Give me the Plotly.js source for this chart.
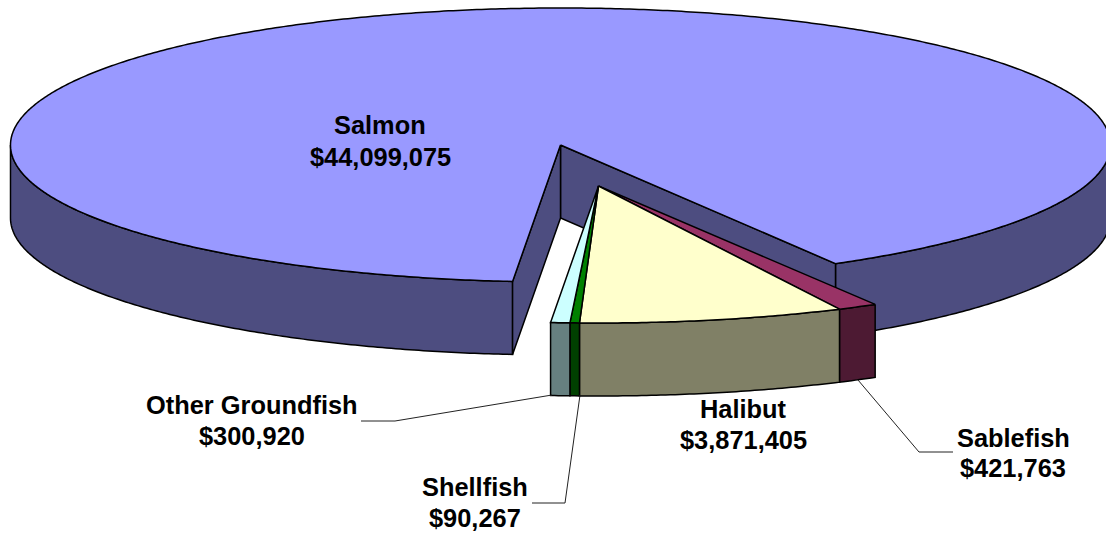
<!DOCTYPE html>
<html>
<head>
<meta charset="utf-8">
<script src="https://cdn.plot.ly/plotly-3.0.1.min.js"></script>
<style>html,body{margin:0;padding:0;background:#fff;overflow:hidden}#chart{width:1106px;height:534px}</style>
</head>
<body>
<div id="chart"></div>
<script>
// Data, in clockwise drawing order starting from the first slice angle
const categories = ["Sablefish", "Halibut", "Shellfish", "Other Groundfish", "Salmon"];
const values = [421763, 3871405, 90267, 300920, 44099075];

// Styles
const topColors = ["#993366", "#FFFFCC", "#008000", "#CCFFFF", "#9999FF"];
const wallColors = ["#4D1A33", "#808066", "#004000", "#668080", "#4D4D80"];

// Pie projection
const firstAngle = 30.2, rx = 550, ry = 137, depth = 73;
const body = {cx: 560.5, cy: 145};
const pulled = {cx: 598.5, cy: 186};
const frontSweepEnd = 90;
// The source's 3-D renderer widens the thinnest slices a little; degrees added to each share
const projectionNudge = [1.1, -0.6, 0.33, -0.2, -0.43];

const total = values.reduce((a, b) => a + b, 0);
let running = firstAngle;
const spans = values.map((v, i) => {
  const from = running;
  running -= v / total * 360 + projectionNudge[i];
  return [from, running];
});

// angle: degrees measured from straight down, positive toward the right
const pt = (c, deg, drop = 0) => {
  const r = deg * Math.PI / 180;
  return [c.cx + rx * Math.sin(r), c.cy + ry * Math.cos(r) + drop];
};
const arc = (c, a, b, drop = 0) => {
  const n = Math.max(2, Math.ceil(Math.abs(a - b) * 2));
  const out = [];
  for (let i = 0; i <= n; i++) out.push(pt(c, a + (b - a) * i / n, drop));
  return out;
};
const poly = (pts, fill, name) => ({
  type: "scatter", mode: "lines", name,
  x: pts.map(p => p[0]), y: pts.map(p => p[1]),
  fill: "toself", fillcolor: fill,
  line: {color: "#000", width: 1.5, simplify: false},
  hoverinfo: "name", showlegend: false
});
const wallPoly = (c, a, b, fill, name) =>
  poly([...arc(c, a, b), ...arc(c, b, a, depth), pt(c, a)], fill, name);

const traces = [];
const salmonIdx = values.length - 1;
const [sFrom, sTo] = spans[salmonIdx]; // runs from the left cut clockwise round to the right cut
const leftCut = sFrom, rightCut = sTo + 360;

// Salmon outer walls (only the front half of the rim shows)
traces.push(wallPoly(body, -frontSweepEnd, leftCut, wallColors[salmonIdx], "Salmon wall"));
traces.push(wallPoly(body, rightCut, frontSweepEnd, wallColors[salmonIdx], "Salmon wall"));
// Salmon cut faces
const apex = [body.cx, body.cy], apexLow = [body.cx, body.cy + depth];
traces.push(poly([apex, pt(body, rightCut), pt(body, rightCut, depth), apexLow, apex], wallColors[salmonIdx], "Salmon cut"));
traces.push(poly([apex, pt(body, leftCut), pt(body, leftCut, depth), apexLow, apex], wallColors[salmonIdx], "Salmon cut"));
// Salmon top
traces.push(poly([apex, ...arc(body, leftCut, rightCut - 360), apex], topColors[salmonIdx], "Salmon"));

// Pulled-out slices
for (let i = 0; i < salmonIdx; i++) {
  traces.push(wallPoly(pulled, spans[i][0], spans[i][1], wallColors[i], categories[i] + " wall"));
}
for (let i = 0; i < salmonIdx; i++) {
  const a = [pulled.cx, pulled.cy];
  traces.push(poly([a, ...arc(pulled, spans[i][0], spans[i][1]), a], topColors[i], categories[i]));
}

// Labels: centre x, first line y, second line y
const labelAt = {
  "Salmon": [380, 125, 157],
  "Halibut": [743.5, 409, 440],
  "Sablefish": [1013, 438, 468],
  "Other Groundfish": [252, 405, 436],
  "Shellfish": [474.5, 487, 518]
};
const money = v => "$" + v.toLocaleString("en-US");
const labelLine = (x, y, text) => ({
  x, y, xref: "x", yref: "y", text: "<b>" + text + "</b>",
  showarrow: false, align: "center", xanchor: "center", yanchor: "middle",
  font: {family: "Liberation Sans, Arial, sans-serif", size: 25.4, color: "#000"}
});
const annotations = categories.flatMap((c, i) => [
  labelLine(labelAt[c][0], labelAt[c][1], c),
  labelLine(labelAt[c][0], labelAt[c][2], money(values[i]))
]);

// Leader lines
const leaders = [
  [[552, 395], [395, 421], [361, 421]],
  [[580, 395], [565, 503], [532, 503]],
  [[858, 380], [919, 452], [953, 452]]
];
const shapes = leaders.map(l => ({
  type: "path", xref: "x", yref: "y",
  path: "M" + l.map(p => p[0] + "," + p[1]).join(" L"),
  line: {color: "#222", width: 1}, layer: "above"
}));

const layout = {
  width: 1106, height: 534,
  margin: {l: 0, r: 0, t: 0, b: 0},
  paper_bgcolor: "#fff", plot_bgcolor: "#fff",
  xaxis: {range: [0, 1106], visible: false, fixedrange: true},
  yaxis: {range: [534, 0], visible: false, fixedrange: true},
  showlegend: false, annotations, shapes
};
Plotly.newPlot("chart", traces, layout, {displayModeBar: false, staticPlot: true});
</script>
</body>
</html>
